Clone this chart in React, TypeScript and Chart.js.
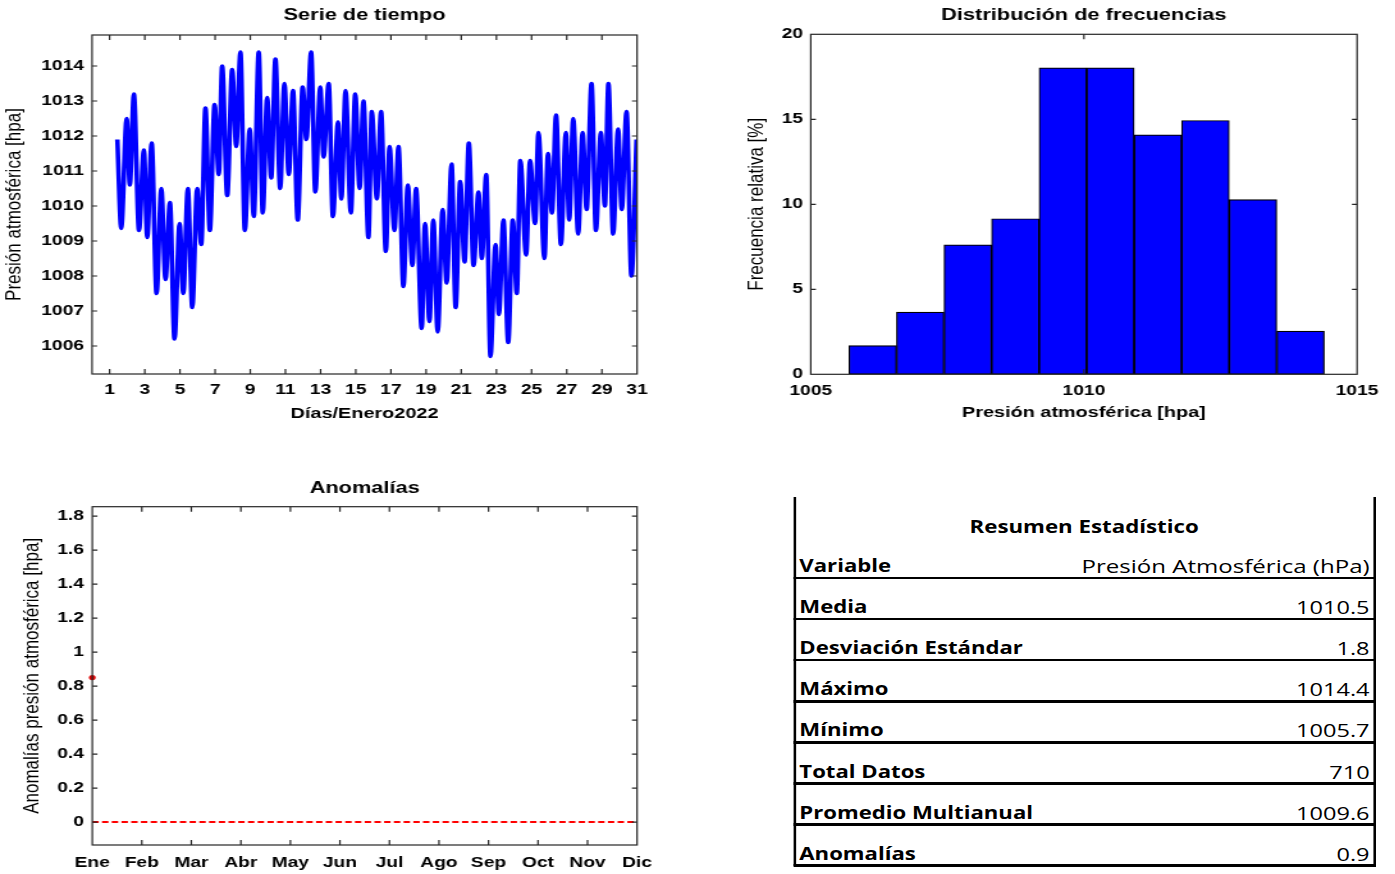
import React, { useEffect, useRef } from 'react';
import { Chart, registerables } from 'chart.js';

Chart.register(...registerables);

const STRETCH = 1.28;
const FONT = "'Liberation Sans', Arial, sans-serif";
const TABLE_FONT = "'Open Sans', 'Noto Sans', sans-serif";

// ---- Serie de tiempo (días de enero 2022, presión hPa) ----
const seriesDays = [
  1.44, 1.66, 1.97, 2.15, 2.38, 2.67, 2.95, 3.14, 3.39, 3.67, 3.94, 4.18, 4.43, 4.69, 4.98, 5.19, 5.45, 5.7, 5.98, 6.21,
  6.45, 6.7, 6.97, 7.21, 7.4, 7.69, 7.97, 8.2, 8.44, 8.69, 8.97, 9.2, 9.48, 9.71, 9.96, 10.19, 10.43, 10.7, 10.94, 11.19,
  11.43, 11.7, 11.98, 12.19, 12.46, 12.7, 12.98, 13.17, 13.46, 13.7, 13.99, 14.18, 14.42, 14.72, 14.97, 15.22, 15.44, 15.72, 15.91, 16.2,
  16.44, 16.71, 16.92, 17.2, 17.43, 17.71, 17.96, 18.22, 18.43, 18.75, 18.94, 19.19, 19.41, 19.66, 19.94, 20.17, 20.45, 20.68, 20.94, 21.19,
  21.43, 21.7, 21.98, 22.17, 22.42, 22.66, 22.95, 23.14, 23.4, 23.67, 23.93, 24.16, 24.36, 24.69, 24.91, 25.2, 25.39, 25.73, 25.93, 26.16,
  26.39, 26.67, 26.95, 27.14, 27.37, 27.65, 27.9, 28.13, 28.41, 28.66, 28.94, 29.17, 29.37, 29.64, 29.92, 30.13, 30.4, 30.68, 30.97,
];
const seriesPressure = [
  1011.9, 1009.36, 1012.5, 1010.6, 1013.2, 1009.3, 1011.6, 1009.1, 1011.8, 1007.5, 1010.5, 1007.9, 1010.1, 1006.2, 1009.5, 1007.5, 1010.5, 1007.1, 1010.5, 1008.9,
  1012.8, 1009.3, 1012.9, 1010.9, 1014.0, 1010.3, 1013.9, 1011.7, 1014.4, 1009.3, 1012.2, 1009.7, 1014.4, 1009.8, 1013.1, 1010.8, 1014.2, 1010.5, 1013.5, 1010.9,
  1013.3, 1009.6, 1013.4, 1011.9, 1014.4, 1010.4, 1013.4, 1011.4, 1013.5, 1009.7, 1012.4, 1010.2, 1013.3, 1009.8, 1013.2, 1010.5, 1013.0, 1009.1, 1012.7, 1010.2,
  1012.7, 1008.7, 1011.7, 1009.3, 1011.7, 1007.7, 1010.6, 1008.3, 1010.5, 1006.5, 1009.5, 1006.7, 1009.6, 1006.4, 1009.9, 1007.8, 1011.2, 1007.1, 1010.7, 1008.4,
  1011.8, 1008.3, 1010.4, 1008.5, 1010.9, 1005.7, 1008.9, 1006.9, 1009.6, 1006.1, 1009.6, 1007.5, 1011.3, 1008.6, 1011.3, 1009.5, 1012.1, 1008.5, 1011.5, 1009.8,
  1012.6, 1008.9, 1012.1, 1009.6, 1012.5, 1009.2, 1012.1, 1009.9, 1013.5, 1009.3, 1012.1, 1010.0, 1013.5, 1009.2, 1012.2, 1009.9, 1012.7, 1008.0, 1011.9,
];
const dayTicks = [1, 3, 5, 7, 9, 11, 13, 15, 17, 19, 21, 23, 25, 27, 29, 31];
const pressureTicks = [1006, 1007, 1008, 1009, 1010, 1011, 1012, 1013, 1014];

// ---- Distribución de frecuencias ----
const binCenters = [1006.135, 1007.005, 1007.875, 1008.745, 1009.615, 1010.485, 1011.355, 1012.225, 1013.095, 1013.965];
const binFrequency = [1.69, 3.66, 7.61, 9.15, 18.03, 18.03, 14.08, 14.93, 10.28, 2.54];
const histXTicks = [1005, 1010, 1015];
const histYTicks = [0, 5, 10, 15, 20];

// ---- Anomalías ----
const months = ['Ene', 'Feb', 'Mar', 'Abr', 'May', 'Jun', 'Jul', 'Ago', 'Sep', 'Oct', 'Nov', 'Dic'];
const monthTicks = [1, 2, 3, 4, 5, 6, 7, 8, 9, 10, 11, 12];
const anomalyMonths = [1];
const anomalyValues = [0.85];
const zeroLineMonths = [1, 12];
const zeroLineValues = [0, 0];
const anomalyTicks = [0, 0.2, 0.4, 0.6, 0.8, 1, 1.2, 1.4, 1.6, 1.8];

// ---- Resumen estadístico ----
const tableTitle = 'Resumen Estadístico';
const tableLabels = ['Variable', 'Media', 'Desviación Estándar', 'Máximo', 'Mínimo', 'Total Datos', 'Promedio Multianual', 'Anomalías'];
const tableValues = ['Presión Atmosférica (hPa)', '1010.5', '1.8', '1014.4', '1005.7', '710', '1009.6', '0.9'];

const fixedTicks = (vals: number[]) => (scale: any) => {
  scale.ticks = vals.map((v) => ({ value: v }));
};

const framePlugin = {
  id: 'matlabFrame',
  afterDatasetsDraw(chart: any) {
    const { ctx, chartArea: a, scales } = chart;
    ctx.save();
    ctx.strokeStyle = '#262626';
    ctx.lineWidth = 1.2;
    ctx.beginPath();
    const xs = scales.x;
    const ys = scales.y;
    xs.ticks.forEach((t: any) => {
      const p = xs.getPixelForValue(t.value);
      if (p <= a.left + 1 || p >= a.right - 1) return;
      ctx.moveTo(p, a.bottom);
      ctx.lineTo(p, a.bottom - 5);
      ctx.moveTo(p, a.top);
      ctx.lineTo(p, a.top + 5);
    });
    ys.ticks.forEach((t: any) => {
      const p = ys.getPixelForValue(t.value);
      if (p <= a.top + 1 || p >= a.bottom - 1) return;
      ctx.moveTo(a.left, p);
      ctx.lineTo(a.left + 4, p);
      ctx.moveTo(a.right, p);
      ctx.lineTo(a.right - 4, p);
    });
    ctx.stroke();
    ctx.strokeRect(a.left, a.top, a.right - a.left, a.bottom - a.top);
    ctx.restore();
  },
};

const tickFont = { family: FONT, size: 15, weight: 'bold' as const };
const titleFont = { family: FONT, size: 17, weight: 'bold' as const };
const xTitleFont = { family: FONT, size: 15.5, weight: 'bold' as const };
const yTitleFont = { family: FONT, size: 17, weight: 'normal' as const };

const hiddenGrid = { display: false, drawTicks: false };

export default function App() {
  const tsRef = useRef<HTMLCanvasElement>(null);
  const histRef = useRef<HTMLCanvasElement>(null);
  const anomRef = useRef<HTMLCanvasElement>(null);

  useEffect(() => {
    document.documentElement.style.overflow = 'hidden';
    document.body.style.overflow = 'hidden';
    const charts: Chart[] = [];

    if (tsRef.current) {
      charts.push(
        new Chart(tsRef.current, {
          type: 'line',
          data: {
            datasets: [
              {
                data: seriesDays.map((d, i) => ({ x: d, y: seriesPressure[i] })),
                borderColor: '#0000ff',
                borderWidth: 3.6,
                pointRadius: 0,
                cubicInterpolationMode: 'monotone',
                fill: false,
              },
            ],
          },
          options: {
            responsive: false,
            animation: false,
            events: [],
            layout: { padding: { left: 0, right: 62.3, top: 0, bottom: 0 } },
            plugins: {
              legend: { display: false },
              tooltip: { enabled: false },
              title: {
                display: true,
                text: 'Serie de tiempo',
                fullSize: false,
                color: '#000',
                font: titleFont,
                padding: { top: 5, bottom: 9.6 },
              },
            },
            scales: {
              x: {
                type: 'linear',
                min: 0,
                max: 31,
                afterBuildTicks: fixedTicks(dayTicks),
                afterFit: (s: any) => {
                  s.height = 66;
                },
                grid: hiddenGrid,
                border: { display: false },
                ticks: { color: '#000', font: tickFont, padding: 7, maxRotation: 0, autoSkip: false, callback: (v: any) => String(v) },
                title: { display: true, text: 'Días/Enero2022', color: '#000', font: xTitleFont, padding: { top: 0, bottom: 17.4 } },
              },
              y: {
                type: 'linear',
                min: 1005.2,
                max: 1014.886,
                afterBuildTicks: fixedTicks(pressureTicks),
                afterFit: (s: any) => {
                  s.width = 71.9;
                },
                grid: hiddenGrid,
                border: { display: false },
                ticks: { color: '#000', font: tickFont, padding: 6.3, callback: (v: any) => String(v) },
                title: { display: true, text: 'Presión atmosférica [hpa]', color: '#000', font: yTitleFont, padding: { top: 1.5, bottom: 0 } },
              },
            },
          },
          plugins: [framePlugin],
        } as any)
      );
    }

    if (histRef.current) {
      charts.push(
        new Chart(histRef.current, {
          type: 'bar',
          data: {
            datasets: [
              {
                data: binCenters.map((c, i) => ({ x: c, y: binFrequency[i] })),
                backgroundColor: '#0000ff',
                borderColor: '#000',
                borderWidth: 1.2,
                borderSkipped: false,
                barPercentage: 1,
                categoryPercentage: 1,
              },
            ],
          },
          options: {
            responsive: false,
            animation: false,
            events: [],
            layout: { padding: { left: 0, right: 28.8, top: 0, bottom: 0 } },
            plugins: {
              legend: { display: false },
              tooltip: { enabled: false },
              title: {
                display: true,
                text: 'Distribución de frecuencias',
                fullSize: false,
                color: '#000',
                font: titleFont,
                padding: { top: 5, bottom: 8.9 },
              },
            },
            scales: {
              x: {
                type: 'linear',
                offset: false,
                min: 1005,
                max: 1015,
                afterBuildTicks: fixedTicks(histXTicks),
                afterFit: (s: any) => {
                  s.height = 65.7;
                },
                grid: { ...hiddenGrid, offset: false },
                border: { display: false },
                ticks: { color: '#000', font: tickFont, padding: 7.7, maxRotation: 0, autoSkip: false, callback: (v: any) => String(v) },
                title: { display: true, text: 'Presión atmosférica [hpa]', color: '#000', font: xTitleFont, padding: { top: 0, bottom: 17.7 } },
              },
              y: {
                type: 'linear',
                min: 0,
                max: 20,
                afterBuildTicks: fixedTicks(histYTicks),
                afterFit: (s: any) => {
                  s.width = 73.4;
                },
                grid: hiddenGrid,
                border: { display: false },
                ticks: { color: '#000', font: tickFont, padding: 6, callback: (v: any) => String(v) },
                title: { display: true, text: 'Frecuencia relativa [%]', color: '#000', font: yTitleFont, padding: { top: 21.2, bottom: 0 } },
              },
            },
          },
          plugins: [framePlugin],
        } as any)
      );
    }

    if (anomRef.current) {
      charts.push(
        new Chart(anomRef.current, {
          type: 'line',
          data: {
            datasets: [
              {
                data: zeroLineMonths.map((m, i) => ({ x: m, y: zeroLineValues[i] })),
                borderColor: '#ff0000',
                borderWidth: 2,
                borderDash: [5, 2.6],
                pointRadius: 0,
                fill: false,
              },
              {
                data: anomalyMonths.map((m, i) => ({ x: m, y: anomalyValues[i] })),
                showLine: false,
                pointRadius: 2.6,
                pointBackgroundColor: '#e00000',
                pointBorderColor: '#e00000',
                pointBorderWidth: 0,
                clip: false,
              },
            ],
          },
          options: {
            responsive: false,
            animation: false,
            events: [],
            layout: { padding: { left: 0, right: 62.3, top: 0, bottom: 0 } },
            plugins: {
              legend: { display: false },
              tooltip: { enabled: false },
              title: {
                display: true,
                text: 'Anomalías',
                fullSize: false,
                color: '#000',
                font: titleFont,
                padding: { top: 17.8, bottom: 8.5 },
              },
            },
            scales: {
              x: {
                type: 'linear',
                min: 1,
                max: 12,
                afterBuildTicks: fixedTicks(monthTicks),
                afterFit: (s: any) => {
                  s.height = 29;
                },
                grid: hiddenGrid,
                border: { display: false },
                ticks: {
                  color: '#000',
                  font: tickFont,
                  padding: 9,
                  maxRotation: 0,
                  autoSkip: false,
                  callback: (v: any) => months[Number(v) - 1],
                },
              },
              y: {
                type: 'linear',
                min: -0.135,
                max: 1.855,
                afterBuildTicks: fixedTicks(anomalyTicks),
                afterFit: (s: any) => {
                  s.width = 72.1;
                },
                grid: hiddenGrid,
                border: { display: false },
                ticks: { color: '#000', font: tickFont, padding: 6.5, callback: (v: any) => String(Math.round(Number(v) * 10) / 10) },
                title: {
                  display: true,
                  text: 'Anomalías presión atmosférica [hpa]',
                  color: '#000',
                  font: yTitleFont,
                  padding: { top: 15.6, bottom: 0 },
                },
              },
            },
          },
          plugins: [framePlugin],
        } as any)
      );
    }

    return () => {
      charts.forEach((c) => c.destroy());
    };
  }, []);

  const tableLeft = 619.5;
  const tableRight = 1074.5;
  const lineStep = 41.1;

  return (
    <div
      style={{
        position: 'absolute',
        left: 0,
        top: 0,
        width: 1089,
        height: 874,
        transform: `scaleX(${STRETCH})`,
        transformOrigin: '0 0',
        background: '#fff',
        overflow: 'hidden',
      }}
    >
      <canvas ref={tsRef} width={560} height={440} style={{ position: 'absolute', left: 0, top: 0 }} />
      <canvas ref={histRef} width={529} height={440} style={{ position: 'absolute', left: 560, top: 0 }} />
      <canvas ref={anomRef} width={560} height={414} style={{ position: 'absolute', left: 0, top: 460 }} />

      {/* Tabla resumen */}
      <div style={{ position: 'absolute', left: tableLeft, top: 497, width: 2, height: 369, background: '#000' }} />
      <div style={{ position: 'absolute', left: tableRight - 2, top: 497, width: 2, height: 369, background: '#000' }} />
      {tableLabels.map((_, i) => (
        <div
          key={'l' + i}
          style={{
            position: 'absolute',
            left: tableLeft,
            width: tableRight - tableLeft,
            top: 578 + lineStep * i - 1.25,
            height: 2.5,
            background: '#000',
          }}
        />
      ))}
      <div
        style={{
          position: 'absolute',
          left: tableLeft,
          width: tableRight - tableLeft,
          top: 526 - 13,
          height: 26,
          lineHeight: '26px',
          textAlign: 'center',
          fontFamily: TABLE_FONT,
          fontWeight: 700,
          fontSize: 17.4,
          color: '#000',
          whiteSpace: 'nowrap',
        }}
      >
        {tableTitle}
      </div>
      {tableLabels.map((label, i) => (
        <div
          key={'t' + i}
          style={{
            position: 'absolute',
            left: tableLeft + 5,
            top: 566 + lineStep * i - 13,
            height: 26,
            lineHeight: '26px',
            fontFamily: TABLE_FONT,
            fontWeight: 700,
            fontSize: 17.3,
            color: '#000',
            whiteSpace: 'nowrap',
          }}
        >
          {label}
        </div>
      ))}
      {tableValues.map((val, i) => (
        <div
          key={'v' + i}
          style={{
            position: 'absolute',
            right: 1089 - (tableRight - 4.5),
            top: 566 + lineStep * i - 13,
            height: 26,
            lineHeight: '26px',
            textAlign: 'right',
            fontFamily: TABLE_FONT,
            fontWeight: 400,
            fontSize: i === 0 ? 18.8 : 18.4,
            color: '#000',
            whiteSpace: 'nowrap',
          }}
        >
          {val}
        </div>
      ))}
    </div>
  );
}
